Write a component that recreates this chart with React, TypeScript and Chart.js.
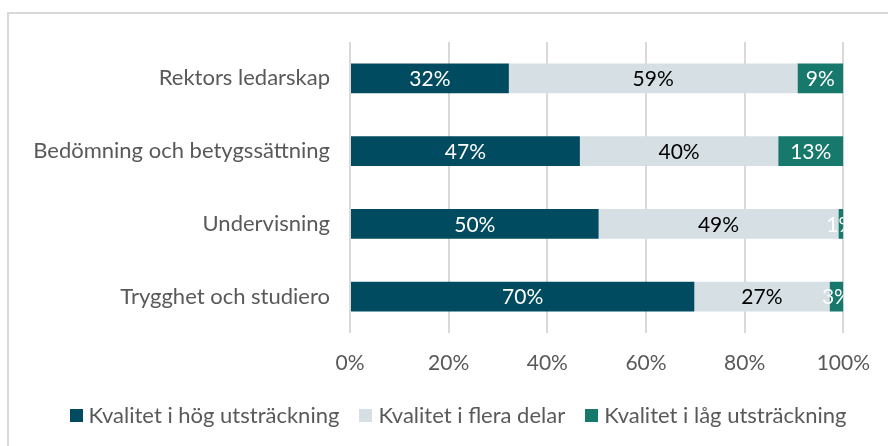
import React, { useEffect, useRef } from "react";
import { Chart, registerables } from "chart.js";

Chart.register(...registerables);

const categories = [
  "Rektors ledarskap",
  "Bedömning och betygssättning",
  "Undervisning",
  "Trygghet och studiero",
];
const seriesNames = [
  "Kvalitet i hög utsträckning",
  "Kvalitet i flera delar",
  "Kvalitet i låg utsträckning",
];
const hogValues = [32.2, 46.6, 50.4, 69.8];
const fleraValues = [58.5, 40.2, 48.6, 27.4];
const lagValues = [9.3, 13.2, 1.0, 2.8];
const xTicks = [0, 20, 40, 60, 80, 100];

const FONT = "Lato, 'Open Sans', sans-serif";
const colors = ["#004b5f", "#d6dfe4", "#17786c"];
const labelColors = ["#ffffff", "#000000", "#ffffff"];

const dataLabelPlugin = {
  id: "dataLabels",
  afterDatasetsDraw(chart: any) {
    const ctx = chart.ctx;
    const area = chart.chartArea;
    ctx.save();
    ctx.beginPath();
    ctx.rect(area.left, area.top, area.right - area.left, area.bottom - area.top);
    ctx.clip();
    ctx.font = `21px ${FONT}`;
    ctx.textAlign = "center";
    ctx.textBaseline = "middle";
    chart.data.datasets.forEach((ds: any, di: number) => {
      const meta = chart.getDatasetMeta(di);
      meta.data.forEach((bar: any, i: number) => {
        const v = ds.data[i];
        const cx = (bar.x + bar.base) / 2;
        ctx.fillStyle = labelColors[di];
        ctx.fillText(Math.round(v) + "%", cx, bar.y + 1);
      });
    });
    ctx.restore();
  },
};

const bottomLegendPlugin = {
  id: "bottomLegend",
  afterDraw(chart: any) {
    const ctx = chart.ctx;
    const box = 13;
    const gapText = 6;
    const gapItem = 20;
    const centerX = 458;
    const centerY = 415;
    ctx.save();
    ctx.font = `22px ${FONT}`;
    ctx.textBaseline = "middle";
    ctx.textAlign = "left";
    const items = chart.data.datasets.map((ds: any) => ({
      label: ds.label,
      color: ds.backgroundColor,
      w: ctx.measureText(ds.label).width,
    }));
    const total =
      items.reduce((s: number, it: any) => s + box + gapText + it.w, 0) +
      gapItem * (items.length - 1);
    let x = centerX - total / 2;
    items.forEach((it: any) => {
      ctx.fillStyle = it.color;
      ctx.fillRect(Math.round(x), Math.round(centerY - box / 2), box, box);
      ctx.fillStyle = "#595959";
      ctx.fillText(it.label, x + box + gapText, centerY + 1);
      x += box + gapText + it.w + gapItem;
    });
    ctx.restore();
  },
};

export default function App() {
  const ref = useRef<HTMLCanvasElement | null>(null);
  useEffect(() => {
    if (!ref.current) return;
    const chart = new Chart(ref.current, {
      type: "bar",
      data: {
        labels: categories,
        datasets: [hogValues, fleraValues, lagValues].map((d, i) => ({
          label: seriesNames[i],
          data: d,
          backgroundColor: colors[i],
          borderWidth: 0,
          barPercentage: 1,
          categoryPercentage: 0.41,
        })),
      },
      options: {
        indexAxis: "y",
        responsive: false,
        animation: false,
        layout: { padding: { top: 42, right: 44, left: 10, bottom: 63 } },
        plugins: {
          tooltip: { enabled: false },
          legend: { display: false },
        },
        scales: {
          x: {
            stacked: true,
            min: 0,
            max: 100,
            afterBuildTicks(scale: any) {
              scale.ticks = xTicks.map((v) => ({ value: v }));
            },
            afterFit(scale: any) {
              scale.height = 50;
            },
            ticks: {
              color: "#595959",
              font: { family: FONT, size: 21 },
              padding: 18,
              callback: (v: any) => v + "%",
            },
            grid: { color: "#d9d9d9", lineWidth: 2, drawTicks: false },
            border: { display: false },
          },
          y: {
            stacked: true,
            afterFit(scale: any) {
              scale.width = 350 - 10;
            },
            ticks: {
              color: "#595959",
              font: { family: FONT, size: 22 },
              padding: 20,
            },
            grid: { display: false, drawTicks: false },
            border: { display: false },
          },
        },
      },
      plugins: [dataLabelPlugin, bottomLegendPlugin],
    });
    return () => chart.destroy();
  }, []);
  return (
    <div style={{ position: "fixed", left: 0, top: 0, width: 888, height: 446, overflow: "hidden", background: "#fff" }}>
      <div
        style={{
          position: "absolute",
          left: 7,
          top: 12,
          width: 1000,
          height: 1000,
          border: "2px solid #d9d9d9",
        }}
      />
      <canvas ref={ref} width={888} height={446} style={{ position: "absolute", left: 0, top: 0 }} />
    </div>
  );
}
